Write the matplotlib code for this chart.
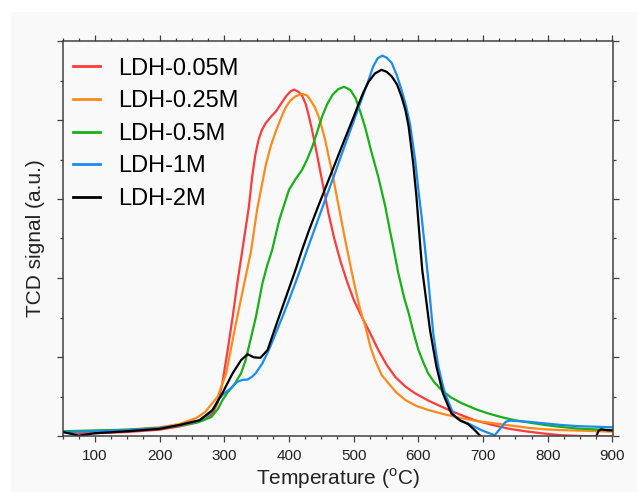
import numpy as np
import matplotlib
matplotlib.use("Agg")
import matplotlib.pyplot as plt
from matplotlib.ticker import MultipleLocator

# 温度 (°C) と TCD 信号 (a.u.) — 図から読み取った値
t_005 = [50, 75, 100, 150, 200, 230, 255, 270, 282, 290, 297, 305, 313, 320, 328,
         338, 343, 348, 353, 358, 364, 372, 380, 388, 395, 402, 408, 414, 420, 426,
         431, 436, 441, 451, 461, 470, 480, 490, 500, 513, 525, 538, 551, 564, 580,
         595, 615, 636, 660, 687, 712, 738, 765, 790, 820, 850, 900]
s_005 = [0.010, 0.008, 0.007, 0.010, 0.016, 0.024, 0.033, 0.042, 0.057, 0.085, 0.133,
         0.215, 0.302, 0.385, 0.471, 0.580, 0.655, 0.712, 0.750, 0.774, 0.792, 0.808,
         0.822, 0.842, 0.859, 0.872, 0.877, 0.872, 0.863, 0.840, 0.808, 0.772, 0.732,
         0.648, 0.564, 0.500, 0.440, 0.390, 0.345, 0.300, 0.262, 0.218, 0.180, 0.150,
         0.125, 0.108, 0.090, 0.074, 0.057, 0.040, 0.029, 0.019, 0.012, 0.007, 0.002,
         0.000, -0.002]

t_025 = [50, 100, 150, 200, 230, 256, 270, 277, 290, 303, 318, 331, 341, 351, 364,
         372, 380, 388, 395, 402, 410, 421, 428, 433, 440, 446, 451, 456, 461, 467,
         477, 487, 492, 497, 503, 510, 518, 526, 533, 543, 554, 566, 580, 597, 615,
         640, 667, 690, 718, 745, 769, 795, 820, 860, 900]
s_025 = [0.011, 0.013, 0.016, 0.022, 0.030, 0.045, 0.060, 0.074, 0.100, 0.159, 0.285,
         0.387, 0.465, 0.575, 0.685, 0.735, 0.773, 0.806, 0.832, 0.849, 0.860, 0.866,
         0.862, 0.851, 0.832, 0.808, 0.780, 0.749, 0.710, 0.665, 0.580, 0.495, 0.455,
         0.415, 0.370, 0.320, 0.278, 0.225, 0.192, 0.155, 0.133, 0.110, 0.091, 0.076,
         0.066, 0.055, 0.045, 0.038, 0.032, 0.026, 0.021, 0.017, 0.015, 0.013, 0.011]

t_05 = [50, 100, 150, 200, 230, 260, 280, 290, 297, 305, 315, 326, 333, 340, 349,
        359, 366, 374, 385, 400, 410, 420, 428, 436, 444, 451, 459, 467, 476, 485,
        495, 503, 510, 518, 526, 538, 549, 556, 561, 569, 578, 585, 592, 600, 608,
        615, 625, 636, 650, 667, 690, 708, 730, 749, 775, 795, 820, 846, 870, 900]
s_05 = [0.012, 0.014, 0.016, 0.020, 0.026, 0.035, 0.048, 0.068, 0.090, 0.110, 0.129,
        0.159, 0.192, 0.240, 0.302, 0.387, 0.430, 0.471, 0.547, 0.623, 0.650, 0.673,
        0.700, 0.732, 0.772, 0.808, 0.840, 0.863, 0.878, 0.884, 0.876, 0.855, 0.822,
        0.780, 0.728, 0.656, 0.580, 0.520, 0.480, 0.412, 0.350, 0.311, 0.265, 0.218,
        0.185, 0.159, 0.135, 0.116, 0.098, 0.083, 0.067, 0.057, 0.047, 0.040, 0.033,
        0.028, 0.023, 0.019, 0.017, 0.015]

t_1 = [50, 100, 150, 200, 230, 260, 280, 292, 300, 308, 320, 328, 336, 343, 349,
       359, 370, 380, 390, 400, 415, 428, 441, 456, 472, 482, 492, 500, 508, 515,
       523, 530, 537, 544, 551, 559, 567, 574, 581, 587, 591, 595, 600, 605, 610,
       615, 619, 623, 627, 631, 636, 641, 648, 656, 666, 677, 697, 708, 718, 727,
       735, 741, 770, 795, 820, 846, 900]
s_1 = [0.010, 0.012, 0.015, 0.020, 0.027, 0.038, 0.060, 0.095, 0.108, 0.118, 0.137,
       0.142, 0.143, 0.150, 0.160, 0.184, 0.222, 0.262, 0.302, 0.344, 0.410, 0.471,
       0.530, 0.598, 0.670, 0.716, 0.761, 0.797, 0.833, 0.865, 0.901, 0.935, 0.956,
       0.963, 0.958, 0.944, 0.912, 0.876, 0.835, 0.790, 0.745, 0.699, 0.623, 0.555,
       0.479, 0.400, 0.330, 0.260, 0.215, 0.175, 0.140, 0.108, 0.080, 0.049, 0.038,
       0.032, 0.015, 0.008, 0.002, 0.020, 0.036, 0.039, 0.036, 0.032, 0.028, 0.025,
       0.022]

t_2 = [50, 62, 75, 88, 100, 150, 200, 231, 262, 282, 297, 313, 326, 336, 346, 356,
       367, 380, 395, 410, 420, 431, 446, 467, 487, 500, 508, 515, 523, 533, 543,
       551, 559, 567, 574, 580, 585, 592, 597, 603, 606, 610, 618, 628, 638, 645,
       651, 664, 677, 687, 697, 702, 870, 874, 878, 882, 890, 900]
s_2 = [0.010, 0.006, 0.001, 0.004, 0.007, 0.012, 0.018, 0.028, 0.040, 0.066, 0.108,
       0.159, 0.192, 0.207, 0.199, 0.198, 0.218, 0.280, 0.350, 0.420, 0.470, 0.521,
       0.585, 0.672, 0.755, 0.808, 0.842, 0.870, 0.897, 0.918, 0.927, 0.922, 0.910,
       0.890, 0.859, 0.825, 0.783, 0.690, 0.606, 0.479, 0.420, 0.370, 0.268, 0.175,
       0.108, 0.080, 0.057, 0.040, 0.030, 0.015, -0.002, -0.030, -0.030, -0.005,
       0.012, 0.017, 0.015, 0.014]

labels = ["LDH-0.05M", "LDH-0.25M", "LDH-0.5M", "LDH-1M", "LDH-2M"]
colors = ["#ff3b3b", "#ff8a1c", "#17b017", "#1a8cf0", "#000000"]
series = [(t_005, s_005), (t_025, s_025), (t_05, s_05), (t_1, s_1), (t_2, s_2)]

plt.rcParams["font.family"] = ["Liberation Sans", "DejaVu Sans"]
plt.rcParams["mathtext.fontset"] = "custom"
plt.rcParams["mathtext.rm"] = "Liberation Sans"

W, H = 637, 492
fig = plt.figure(figsize=(W / 100, H / 100), dpi=100, facecolor="white")
# 外側の薄いグレー背景
fig.add_artist(plt.Rectangle((11 / W, 0), 1 - 11 / W, 1 - 12 / H,
                             transform=fig.transFigure, facecolor="#f9f9f9",
                             edgecolor="none", zorder=0))

ax = fig.add_axes([62.5 / W, 1 - 436 / H, 550 / W, 395 / H])
ax.set_facecolor("#f9f9f9")

for (t, s), lab, c in zip(series, labels, colors):
    ax.plot(t, s, color=c, lw=1.6, label=lab)

ax.set_xlim(50, 900)
ax.set_ylim(0, 1)
ax.xaxis.set_major_locator(MultipleLocator(100))
ax.xaxis.set_minor_locator(MultipleLocator(25))
ax.yaxis.set_major_locator(MultipleLocator(0.2))
ax.yaxis.set_minor_locator(MultipleLocator(0.1))
ax.set_yticklabels([])

for sp in ax.spines.values():
    sp.set_color("#404040")
    sp.set_linewidth(1.1)

ax.tick_params(which="both", direction="out", colors="#404040", width=0.9,
               labelsize=11, labelcolor="#222222", pad=5)
ax.tick_params(which="major", length=4.5)
ax.tick_params(which="minor", length=2.5)
ax.tick_params(which="both", top=True, right=True)

ax.set_xlabel(r"Temperature ($^\mathregular{o}$C)", fontsize=15, labelpad=2,
              color="#222222")
ax.set_ylabel("TCD signal (a.u.)", fontsize=15, labelpad=3, color="#222222")

leg = ax.legend(loc="upper left", bbox_to_anchor=(0.0185, 0.958), frameon=False,
                fontsize=17, handlelength=1.15, handletextpad=0.78,
                labelspacing=0.45, borderpad=0, borderaxespad=0)
for line in leg.get_lines():
    line.set_linewidth(2.0)

fig.savefig("out.png", dpi=100, facecolor=fig.get_facecolor())
